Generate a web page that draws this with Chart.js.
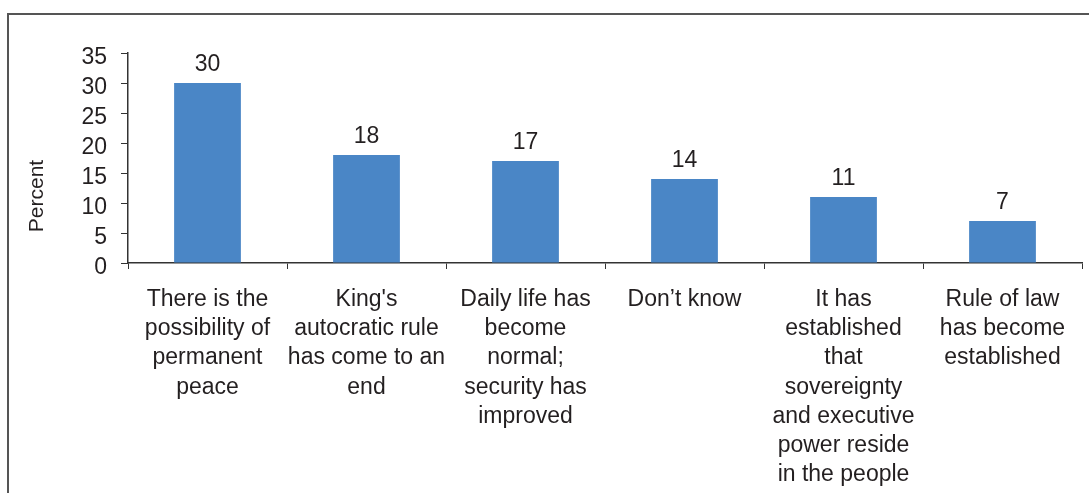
<!DOCTYPE html>
<html>
<head>
<meta charset="utf-8">
<script src="https://cdn.jsdelivr.net/npm/chart.js@4/dist/chart.umd.min.js"></script>
<style>
    body { margin: 0; background: #fff; overflow: hidden; }
    #frame {
        position: absolute; left: 7px; top: 13px; width: 1200px; height: 600px;
        border-left: 2px solid #555; border-top: 2px solid #555;
    }
    #chart { position: absolute; left: 0; top: 0; }
</style>
</head>
<body>
<div id="frame"></div>
<canvas id="chart" width="1089" height="493"></canvas>
<script>
// Reasons given, one multi-line label per bar
var reasons = [
    ['There is the', 'possibility of', 'permanent', 'peace'],
    ["King's", 'autocratic rule', 'has come to an', 'end'],
    ['Daily life has', 'become', 'normal;', 'security has', 'improved'],
    ['Don\u2019t know'],
    ['It has', 'established', 'that', 'sovereignty', 'and executive', 'power reside', 'in the people'],
    ['Rule of law', 'has become', 'established'],
];
var percents = [30, 18, 17, 14, 11, 7];
var yTicks = [0, 5, 10, 15, 20, 25, 30, 35];

var textColor = '#231f20';
var axisColor = '#333333';
var fontFamily = '"Liberation Sans", Arial, sans-serif';

// Value above each bar, plus the rotated axis title sitting a bit low
const barValues = {
    id: 'barValues',
    afterDatasetsDraw(chart) {
        const ctx = chart.ctx;
        const meta = chart.getDatasetMeta(0);
        ctx.save();
        ctx.fillStyle = textColor;
        ctx.font = '23px ' + fontFamily;
        ctx.textAlign = 'center';
        ctx.textBaseline = 'alphabetic';
        meta.data.forEach(function (bar, i) {
            ctx.fillText(String(percents[i]), bar.x, bar.y - 12);
        });

        const area = chart.chartArea;
        ctx.translate(37, area.bottom - 67);
        ctx.rotate(-Math.PI / 2);
        ctx.font = '21px ' + fontFamily;
        ctx.textBaseline = 'middle';
        ctx.fillText('Percent', 0, 0);
        ctx.restore();
    }
};

const ctx = document.getElementById('chart').getContext('2d');
const chart = new Chart(ctx, {
    type: 'bar',
    data: {
        labels: reasons,
        datasets: [{
            label: 'Percent',
            data: percents,
            backgroundColor: '#4a86c6',
            borderWidth: 0,
            categoryPercentage: 1.0,
            barPercentage: 0.42,
        }],
    },
    options: {
        responsive: false,
        animation: false,
        layout: { padding: { left: 0, top: 53, right: 7, bottom: 0 } },
        plugins: {
            legend: { display: false },
            tooltip: { enabled: false },
        },
        scales: {
            x: {
                grid: {
                    offset: true,
                    drawOnChartArea: false,
                    drawTicks: true,
                    tickLength: 6,
                    color: axisColor,
                },
                border: { display: true, color: axisColor, width: 1.5 },
                ticks: {
                    color: textColor,
                    padding: 16,
                    maxRotation: 0,
                    autoSkip: false,
                    font: { family: fontFamily, size: 23, lineHeight: 1.27 },
                },
                afterFit: function (scale) { scale.height = 230; },
            },
            y: {
                min: 0,
                max: 35,
                afterBuildTicks: function (scale) {
                    scale.ticks = yTicks.map(function (v) { return { value: v }; });
                },
                grid: {
                    drawOnChartArea: false,
                    drawTicks: true,
                    tickLength: 7,
                    color: axisColor,
                },
                border: { display: true, color: axisColor, width: 1.5 },
                ticks: {
                    color: textColor,
                    padding: 14,
                    labelOffset: 5,
                    autoSkip: false,
                    font: { family: fontFamily, size: 23 },
                },
                afterFit: function (scale) { scale.width = 128; },
            },
        },
    },
    plugins: [barValues],
});
</script>
</body>
</html>
